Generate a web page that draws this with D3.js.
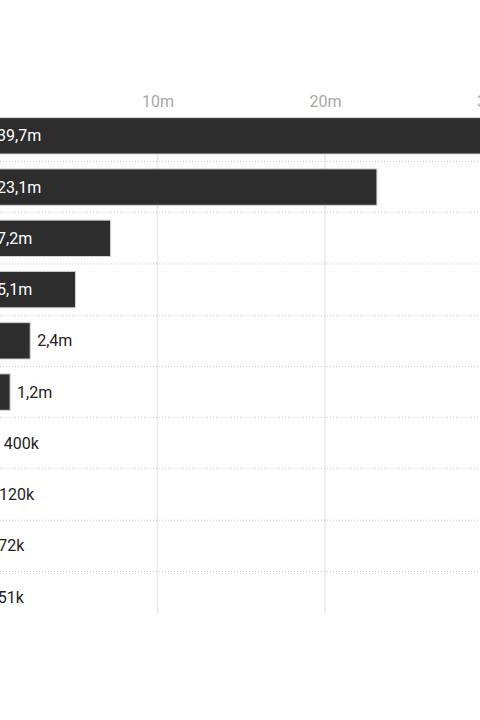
<!DOCTYPE html>
<html>
<head>
<meta charset="utf-8">
<script src="https://cdn.jsdelivr.net/npm/d3@7"></script>
<style>
  body { margin: 0; background: #fff; }
  svg { display: block; font-family: Roboto, "Noto Sans", sans-serif; }
</style>
</head>
<body>
<div id="chart"></div>
<script>
// values in millions, labels sit to the left of the visible area
var categories = ["Row 1", "Row 2", "Row 3", "Row 4", "Row 5", "Row 6", "Row 7", "Row 8", "Row 9", "Row 10"];
var values = [39.7, 23.1, 7.2, 5.1, 2.4, 1.2, 0.4, 0.12, 0.072, 0.051];
var tickValues = [10, 20, 30];
var tickLabels = ["10m", "20m", "30m"];

var width = 480, height = 720;

var svg = d3.select('#chart').append('svg')
  .attr('width', width)
  .attr('height', height);

var xScale = d3.scaleLinear()
  .domain([0, 30])
  .range([-10, 492.5]);

var yScale = d3.scaleBand()
  .domain(categories)
  .range([110.2, 622.7])
  .paddingInner(0.29)
  .paddingOuter(0.145);

var fmt = function(v) {
  if (v >= 1) return v.toFixed(1).replace('.', ',') + 'm';
  return Math.round(v * 1000) + 'k';
};

// vertical grid
svg.append('g')
  .selectAll('line')
  .data(tickValues)
  .enter().append('line')
  .attr('x1', d => xScale(d))
  .attr('x2', d => xScale(d))
  .attr('y1', yScale(categories[0]))
  .attr('y2', 613)
  .attr('stroke', '#e8e8e8')
  .attr('stroke-width', 1.5);

// top axis labels
var xAxis = d3.axisTop(xScale)
  .tickValues(tickValues)
  .tickFormat((d, i) => tickLabels[i])
  .tickSize(0)
  .tickPadding(0);

var axisG = svg.append('g')
  .attr('class', 'x axis')
  .attr('transform', 'translate(0,107)')
  .call(xAxis);
axisG.select('.domain').remove();
axisG.selectAll('text')
  .attr('dy', 0)
  .style('font-size', '16px')
  .style('fill', '#a8a8a8')
  .style('font-family', 'Roboto, sans-serif');

// dotted separators between rows
var step = yScale.step();
svg.append('g')
  .selectAll('line')
  .data(categories.slice(1))
  .enter().append('line')
  .attr('x1', 0)
  .attr('x2', width)
  .attr('y1', d => yScale(d) - (step - yScale.bandwidth()) / 2)
  .attr('y2', d => yScale(d) - (step - yScale.bandwidth()) / 2)
  .attr('stroke', '#c8c8c8')
  .attr('stroke-width', 1)
  .attr('stroke-dasharray', '1,2');

// bars
svg.selectAll('.bar')
  .data(values)
  .enter()
  .append('rect')
  .attr('class', 'bar')
  .attr('x', xScale(0))
  .attr('y', (d, i) => yScale(categories[i]))
  .attr('width', d => xScale(d) - xScale(0))
  .attr('height', yScale.bandwidth())
  .attr('fill', '#2d2d2d')
  .attr('stroke', '#d4d4d4')
  .attr('stroke-width', 1);

// value labels, inside the bar when it fits
svg.selectAll('.val')
  .data(values)
  .enter()
  .append('text')
  .attr('class', 'val')
  .attr('y', (d, i) => yScale(categories[i]) + yScale.bandwidth() / 2)
  .attr('dy', '0.35em')
  .attr('x', d => (xScale(d) - xScale(0) > 60) ? xScale(0) + 7 : xScale(d) + 7)
  .style('font-size', '16px')
  .style('fill', d => (xScale(d) - xScale(0) > 60) ? '#fff' : '#222')
  .text(d => fmt(d));
</script>
</body>
</html>
